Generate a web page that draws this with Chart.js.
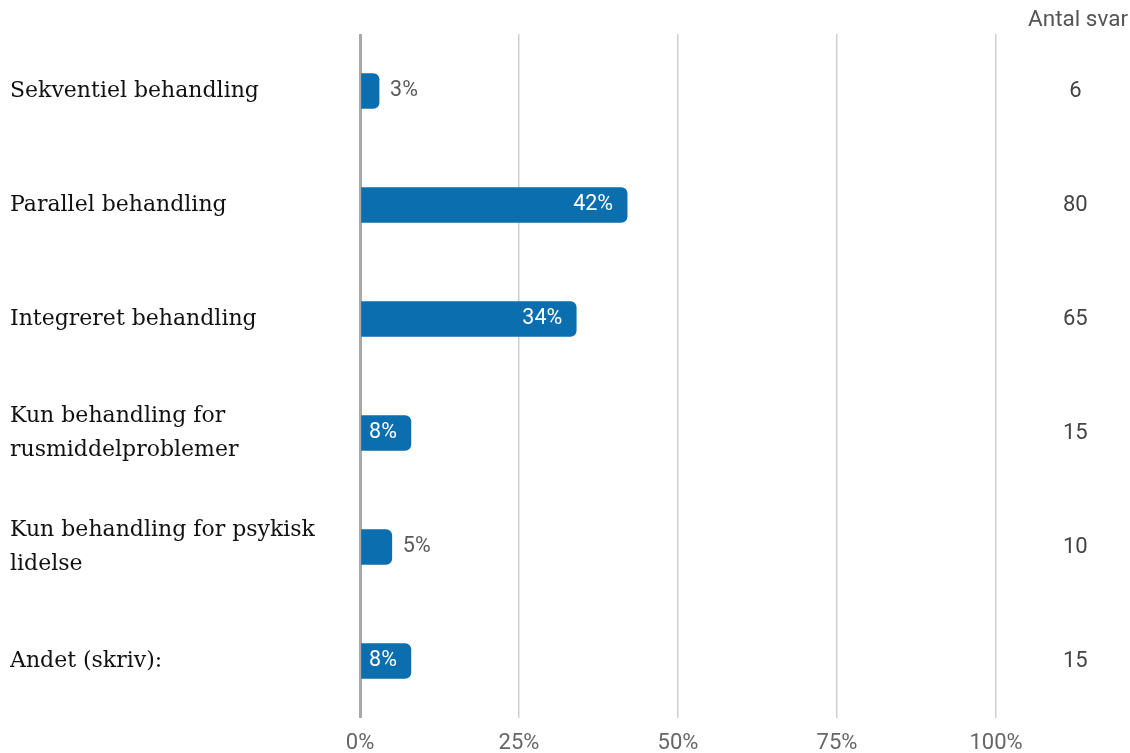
<!DOCTYPE html>
<html>
<head>
<meta charset="utf-8">
<script src="https://cdn.jsdelivr.net/npm/chart.js@4/dist/chart.umd.min.js"></script>
<style>
  html, body { margin: 0; padding: 0; background: #ffffff; }
  #wrap { width: 1130px; height: 753px; position: relative; }
</style>
</head>
<body>
<div id="wrap"><canvas id="c" width="1130" height="753"></canvas></div>
<script>
// Behandlingsformer: andel (%) og antal svar
const categories = [
  'Sekventiel behandling',
  'Parallel behandling',
  'Integreret behandling',
  ['Kun behandling for', 'rusmiddelproblemer'],
  ['Kun behandling for psykisk', 'lidelse'],
  'Andet (skriv):'
];
const percentValues = [3, 42, 34, 8, 5, 8];
const answerCounts = ['6', '80', '65', '15', '10', '15'];
const xTickValues = [0, 25, 50, 75, 100];
const countHeader = 'Antal svar';

const BAR_COLOR = '#0b6eae';

// Percentage labels: inside the bar (white) when it fits, otherwise just after it (grey)
const valueLabels = {
  id: 'valueLabels',
  afterDatasetsDraw(chart) {
    const ctx = chart.ctx;
    const meta = chart.getDatasetMeta(0);
    ctx.save();
    ctx.font = '21.5px Roboto';
    ctx.textBaseline = 'middle';
    meta.data.forEach((bar, i) => {
      const txt = percentValues[i] + '%';
      const w = ctx.measureText(txt).width;
      const len = bar.x - bar.base;
      if (len > w + 20) {
        ctx.fillStyle = '#ffffff';
        ctx.textAlign = 'right';
        ctx.fillText(txt, bar.x - 14, bar.y);
      } else {
        ctx.fillStyle = '#5a5a5a';
        ctx.textAlign = 'left';
        ctx.fillText(txt, bar.x + 11, bar.y);
      }
    });
    ctx.restore();
  }
};

// vertical axes should not reserve extra space above/below the plot
function noVerticalPadding(scale) {
  scale.paddingTop = 0;
  scale.paddingBottom = 0;
}

new Chart(document.getElementById('c'), {
  type: 'bar',
  data: {
    labels: categories,
    datasets: [{
      data: percentValues,
      backgroundColor: BAR_COLOR,
      borderRadius: { topLeft: 0, bottomLeft: 0, topRight: 6, bottomRight: 6 },
      borderSkipped: 'start',
      barThickness: 35
    }]
  },
  options: {
    indexAxis: 'y',
    responsive: false,
    animation: false,
    layout: { padding: { left: 10, right: 2, top: 0, bottom: 0 } },
    plugins: {
      legend: { display: false },
      tooltip: { enabled: false },
      title: {
        display: true,
        text: countHeader,
        align: 'end',
        color: '#555555',
        font: { family: 'Roboto', size: 22.5, weight: 'normal', lineHeight: 1.2 },
        padding: { top: 7, bottom: 0 }
      }
    },
    scales: {
      x: {
        type: 'linear',
        position: 'bottom',
        min: 0,
        max: 100,
        afterBuildTicks(scale) { scale.ticks = xTickValues.map(v => ({ value: v })); },
        afterFit(scale) { scale.height = 35; },
        border: { display: false },
        grid: {
          drawTicks: false,
          color: c => (c.tick && c.tick.value === 0) ? '#a9a9a9' : '#cfcfcf',
          lineWidth: c => (c.tick && c.tick.value === 0) ? 3 : 1.5
        },
        ticks: {
          padding: 12,
          color: '#666666',
          font: { family: 'Roboto', size: 22, lineHeight: 1.2 },
          callback: v => v + '%'
        }
      },
      y: {
        type: 'category',
        position: 'left',
        offset: true,
        afterFit(scale) { scale.width = 350; noVerticalPadding(scale); },
        border: { display: false },
        grid: { display: false, drawTicks: false },
        ticks: {
          crossAlign: 'far',
          color: '#111111',
          font: { family: 'DejaVu Serif', size: 22, lineHeight: 1.55 }
        }
      },
      y2: {
        type: 'category',
        position: 'right',
        labels: answerCounts,
        offset: true,
        afterFit(scale) { scale.width = 132; noVerticalPadding(scale); },
        border: { display: false },
        grid: { display: false, drawTicks: false },
        ticks: {
          crossAlign: 'center',
          padding: 67,
          color: '#444444',
          font: { family: 'Roboto', size: 22 }
        }
      }
    }
  },
  plugins: [valueLabels]
});
</script>
</body>
</html>
